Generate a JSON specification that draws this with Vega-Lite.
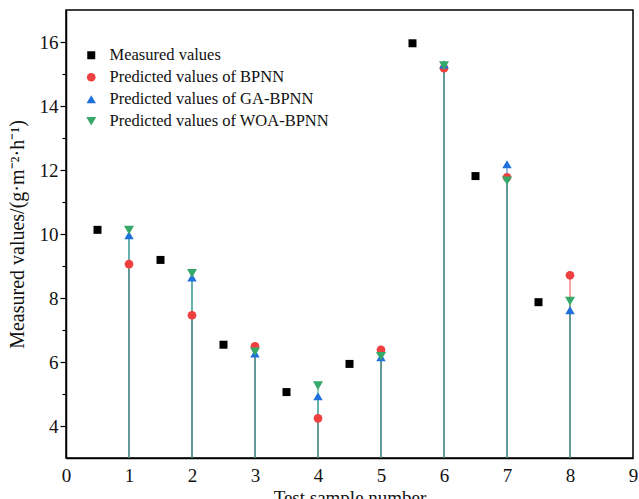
{
  "$schema": "https://vega.github.io/schema/vega-lite/v6.json",
  "width": 567,
  "height": 448,
  "autosize": {"type": "none"},
  "padding": {"left": 66, "top": 10, "right": 6, "bottom": 41},
  "background": "white",
  "config": {
    "font": "Liberation Serif",
    "style": {"guide-label": {"font": "Liberation Serif"}, "guide-title": {"font": "Liberation Serif"}},
    "view": {"stroke": "black", "strokeWidth": 1.5},
    "legend": {"labelFont": "Liberation Serif", "labelLimit": 400},
    "axis": {"grid": false, "domainColor": "black", "domainWidth": 1.5, "tickColor": "black", "tickWidth": 1.2, "labelColor": "#111", "titleColor": "#111", "labelFont": "Liberation Serif", "titleFont": "Liberation Serif", "titleFontWeight": "normal", "labelFontSize": 19, "titleFontSize": 19}
  },
  "datasets": {
    "pts": [
      {"sample": 0.5, "value": 10.13, "series": "Measured values"},
      {"sample": 1.5, "value": 9.19, "series": "Measured values"},
      {"sample": 2.5, "value": 6.54, "series": "Measured values"},
      {"sample": 3.5, "value": 5.06, "series": "Measured values"},
      {"sample": 4.5, "value": 5.94, "series": "Measured values"},
      {"sample": 5.5, "value": 15.96, "series": "Measured values"},
      {"sample": 6.5, "value": 11.81, "series": "Measured values"},
      {"sample": 7.5, "value": 7.87, "series": "Measured values"},
      {"sample": 1, "value": 9.06, "series": "Predicted values of BPNN"},
      {"sample": 2, "value": 7.46, "series": "Predicted values of BPNN"},
      {"sample": 3, "value": 6.49, "series": "Predicted values of BPNN"},
      {"sample": 4, "value": 4.24, "series": "Predicted values of BPNN"},
      {"sample": 5, "value": 6.38, "series": "Predicted values of BPNN"},
      {"sample": 6, "value": 15.18, "series": "Predicted values of BPNN"},
      {"sample": 7, "value": 11.77, "series": "Predicted values of BPNN"},
      {"sample": 8, "value": 8.71, "series": "Predicted values of BPNN"},
      {"sample": 1, "value": 9.96, "series": "Predicted values of GA-BPNN"},
      {"sample": 2, "value": 8.64, "series": "Predicted values of GA-BPNN"},
      {"sample": 3, "value": 6.27, "series": "Predicted values of GA-BPNN"},
      {"sample": 4, "value": 4.93, "series": "Predicted values of GA-BPNN"},
      {"sample": 5, "value": 6.15, "series": "Predicted values of GA-BPNN"},
      {"sample": 6, "value": 15.3, "series": "Predicted values of GA-BPNN"},
      {"sample": 7, "value": 12.18, "series": "Predicted values of GA-BPNN"},
      {"sample": 8, "value": 7.62, "series": "Predicted values of GA-BPNN"},
      {"sample": 1, "value": 10.12, "series": "Predicted values of WOA-BPNN"},
      {"sample": 2, "value": 8.77, "series": "Predicted values of WOA-BPNN"},
      {"sample": 3, "value": 6.32, "series": "Predicted values of WOA-BPNN"},
      {"sample": 4, "value": 5.26, "series": "Predicted values of WOA-BPNN"},
      {"sample": 5, "value": 6.18, "series": "Predicted values of WOA-BPNN"},
      {"sample": 6, "value": 15.26, "series": "Predicted values of WOA-BPNN"},
      {"sample": 7, "value": 11.66, "series": "Predicted values of WOA-BPNN"},
      {"sample": 8, "value": 7.9, "series": "Predicted values of WOA-BPNN"}
    ]
  },
  "data": {"name": "pts"},
  "encoding": {
    "x": {"field": "sample", "type": "quantitative", "scale": {"domain": [0, 9], "nice": false, "zero": false},
      "axis": {"title": "Test sample number", "values": [0,1,2,3,4,5,6,7,8,9], "format": "d", "ticks": false, "labelPadding": 8, "titlePadding": 3, "labelFlush": false, "labelFont": "Liberation Serif", "labelFontSize": 19}},
    "y": {"field": "value", "type": "quantitative", "scale": {"domain": [3, 17], "nice": false, "zero": false},
      "axis": {"title": "Measured values/(g·m⁻²·h⁻¹)", "values": [3,4,5,6,7,8,9,10,11,12,13,14,15,16,17], "labelExpr": "datum.value % 2 == 0 && datum.value > 3 && datum.value < 17 ? datum.label : ''", "tickSize": {"condition": {"test": "datum.value % 2 == 0", "value": 6}, "value": 4}, "tickOpacity": {"condition": {"test": "datum.value == 3 || datum.value == 17", "value": 0}, "value": 1}, "labelPadding": 2, "titlePadding": 12, "labelFlush": false, "labelFont": "Liberation Serif", "labelFontSize": 19, "titleFontSize": 20}}
  },
  "layer": [
    {
      "transform": [{"filter": "datum.series == 'Predicted values of BPNN'"}],
      "mark": {"type": "rule", "strokeWidth": 1.6, "opacity": 0.6, "color": "#ef4040"},
      "encoding": {"y2": {"datum": 3}}
    },
    {
      "transform": [{"filter": "datum.series == 'Predicted values of GA-BPNN'"}],
      "mark": {"type": "rule", "strokeWidth": 1.6, "opacity": 0.6, "color": "#1f6fdc"},
      "encoding": {"y2": {"datum": 3}}
    },
    {
      "transform": [{"filter": "datum.series == 'Predicted values of WOA-BPNN'"}],
      "mark": {"type": "rule", "strokeWidth": 1.6, "opacity": 0.6, "color": "#36a86a"},
      "encoding": {"y2": {"datum": 3}}
    },
    {
      "mark": {"type": "point", "filled": true, "opacity": 1, "strokeWidth": 0},
      "encoding": {
        "color": {"field": "series", "type": "nominal",
          "scale": {"domain": ["Measured values", "Predicted values of BPNN", "Predicted values of GA-BPNN", "Predicted values of WOA-BPNN"], "range": ["#000000", "#ef4040", "#1f6fdc", "#36a86a"]},
          "legend": {"title": null, "orient": "none", "legendX": 17, "legendY": 37, "labelFontSize": 16.5, "labelColor": "#111", "rowPadding": 5, "labelOffset": 10, "symbolStrokeWidth": 0, "labelLimit": 400}},
        "shape": {"field": "series", "type": "nominal",
          "scale": {"domain": ["Measured values", "Predicted values of BPNN", "Predicted values of GA-BPNN", "Predicted values of WOA-BPNN"], "range": ["square", "circle", "triangle-up", "triangle-down"]},
          "legend": {"title": null, "orient": "none", "legendX": 17, "legendY": 37, "labelFontSize": 16.5, "labelColor": "#111", "rowPadding": 5, "labelOffset": 10, "symbolStrokeWidth": 0, "labelLimit": 400}},
        "size": {"field": "series", "type": "nominal",
          "scale": {"domain": ["Measured values", "Predicted values of BPNN", "Predicted values of GA-BPNN", "Predicted values of WOA-BPNN"], "range": [64, 100, 120, 120]},
          "legend": {"title": null, "orient": "none", "legendX": 17, "legendY": 37, "labelFontSize": 16.5, "labelColor": "#111", "rowPadding": 5, "labelOffset": 10, "symbolStrokeWidth": 0, "labelLimit": 400}},
        "order": {"field": "series"}
      }
    }
  ]
}
